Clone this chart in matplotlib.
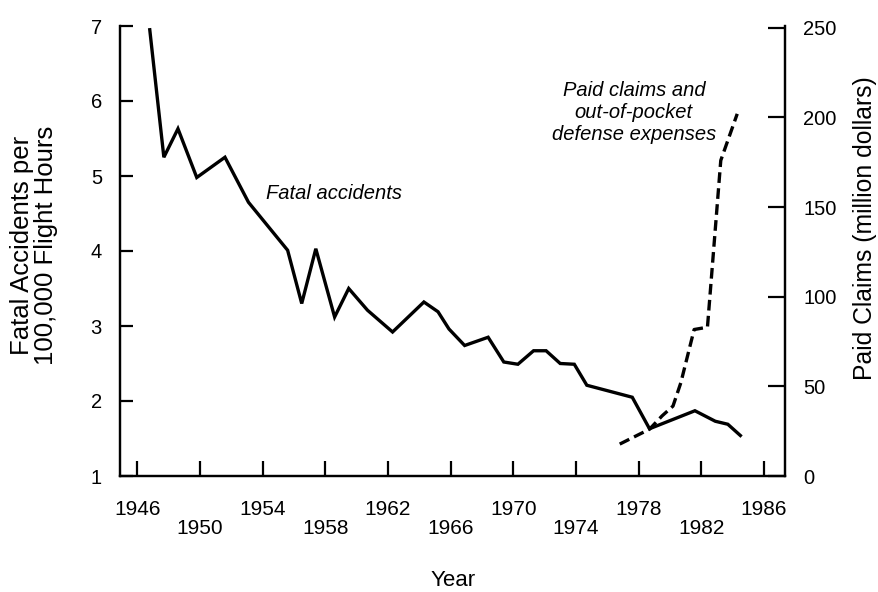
import matplotlib
matplotlib.use("Agg")
import matplotlib.pyplot as plt

plt.rcParams['font.family'] = ['Liberation Sans', 'DejaVu Sans']

# Fatal accidents per 100,000 flight hours
acc_years = [1946.8, 1947.7, 1948.6, 1949.8, 1951.6, 1953.1, 1955.6, 1956.5, 1957.4,
             1958.6, 1959.5, 1960.7, 1962.3, 1964.3, 1965.2, 1965.9, 1966.9, 1968.4,
             1969.4, 1970.3, 1971.3, 1972.1, 1973.0, 1973.9, 1974.7, 1977.6, 1978.7,
             1981.6, 1982.9, 1983.7, 1984.5]
acc_values = [6.95, 5.25, 5.63, 4.98, 5.25, 4.65, 4.01, 3.30, 4.03,
              3.12, 3.50, 3.21, 2.92, 3.32, 3.19, 2.96, 2.74, 2.85,
              2.52, 2.49, 2.67, 2.67, 2.50, 2.49, 2.21, 2.05, 1.63,
              1.87, 1.73, 1.69, 1.54]

# Paid claims and out-of-pocket defense expenses (million dollars)
claim_years = [1976.8, 1978.7, 1979.5, 1980.2, 1980.7, 1981.55, 1982.4, 1983.25, 1984.3]
claim_values = [17.8, 26.1, 33.5, 39.0, 52.0, 81.7, 83.0, 176.0, 202.0]

major_years = [1946, 1954, 1962, 1970, 1978, 1986]
minor_years = [1950, 1958, 1966, 1974, 1982]
left_ticks = [1, 2, 3, 4, 5, 6, 7]
right_ticks = [0, 50, 100, 150, 200, 250]

W, H = 879, 592
fig = plt.figure(figsize=(W / 100, H / 100), dpi=100)
ax = fig.add_axes([120 / W, 1 - 476 / H, (785 - 120) / W, (476 - 26) / H])
ax2 = ax.twinx()

ax.plot(acc_years, acc_values, color='black', lw=2.4, solid_joinstyle='miter')
ax2.plot(claim_years, claim_values, color='black', lw=2.4,
         linestyle=(0, (3.2, 1.6)))

ax.set_xlim(1944.9, 1987.35)
ax.set_ylim(1, 7)
ax2.set_ylim(0, 251)

for a in (ax, ax2):
    a.spines['top'].set_visible(False)
    for s in a.spines.values():
        s.set_linewidth(1.6)

ax.set_xticks(major_years, [str(y) for y in major_years])
ax.set_xticks(minor_years, [str(y) for y in minor_years], minor=True)
ax.tick_params(axis='x', which='both', direction='in', length=11, width=1.6,
               labelsize=15)
ax.tick_params(axis='x', which='major', pad=17)
ax.tick_params(axis='x', which='minor', pad=31)

ax.set_yticks(left_ticks, [str(v) for v in left_ticks])
ax.tick_params(axis='y', direction='in', length=9, width=1.6, labelsize=14.5, pad=13)
ax2.set_yticks(right_ticks, [str(v) for v in right_ticks])
ax2.tick_params(axis='y', direction='in', length=12, width=1.6, labelsize=14.5, pad=13)

fig.text(34 / W, 1 - 245 / H, 'Fatal Accidents per\n100,000 Flight Hours',
         rotation=90, ha='center', va='center', multialignment='center',
         fontsize=18.5, linespacing=1.0)
fig.text(865 / W, 1 - 228 / H, 'Paid Claims (million dollars)',
         rotation=90, ha='center', va='center', fontsize=17.8)
fig.text(453 / W, 1 - 580 / H, 'Year', ha='center', va='center', fontsize=16)

ax.text(1954.2, 4.77, 'Fatal accidents', style='italic', fontsize=14.5,
        ha='left', va='center')
ax.text(1977.7, 5.84, 'Paid claims and\nout-of-pocket\ndefense expenses',
        style='italic', fontsize=14.5, ha='center', va='center',
        multialignment='center', linespacing=1.2)

fig.savefig('out.png', dpi=100)
